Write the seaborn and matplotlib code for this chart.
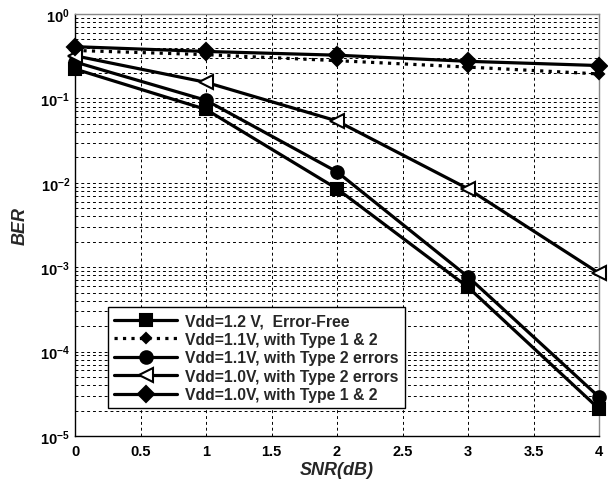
import matplotlib
matplotlib.use("Agg")
import matplotlib.pyplot as plt
import matplotlib.ticker as mticker
import numpy as np
import pandas as pd
import seaborn as sns

snr = [0, 1, 2, 3, 4]
labels = [
    "Vdd=1.2 V,  Error-Free",
    "Vdd=1.1V, with Type 1 & 2",
    "Vdd=1.1V, with Type 2 errors",
    "Vdd=1.0V, with Type 2 errors",
    "Vdd=1.0V, with Type 1 & 2",
]
ber_error_free = [0.223, 0.074, 0.0085, 0.00058, 2.1e-5]
ber_11_t12 = [0.37, 0.33, 0.28, 0.235, 0.195]
ber_11_t2 = [0.27, 0.095, 0.0135, 0.00077, 2.9e-5]
ber_10_t2 = [0.32, 0.155, 0.054, 0.0085, 0.00085]
ber_10_t12 = [0.41, 0.36, 0.325, 0.275, 0.245]
series = [ber_error_free, ber_11_t12, ber_11_t2, ber_10_t2, ber_10_t12]

sns.set_theme(style="white")
plt.rcParams["font.family"] = ["Liberation Sans", "DejaVu Sans"]
plt.rcParams["mathtext.fontset"] = "custom"
plt.rcParams["mathtext.bf"] = "Liberation Sans:bold"

fig = plt.figure(figsize=(6.08, 4.85), dpi=100)
ax = fig.add_axes([75/608, 1-437/485, (599-75)/608, (437-15)/485])

styles = [
    dict(marker="s", ls="-", ms=8, mfc="black"),
    dict(marker="D", ls=":", ms=5, mfc="black"),
    dict(marker="o", ls="-", ms=9, mfc="black"),
    dict(marker="<", ls="-", ms=10, mfc="white"),
    dict(marker="D", ls="-", ms=8, mfc="black"),
]

for lab, vals, st in zip(labels, series, styles):
    df = pd.DataFrame({"SNR": snr, "BER": vals})
    sns.lineplot(data=df, x="SNR", y="BER", ax=ax, color="black", lw=2.3,
                 linestyle=st["ls"], marker=st["marker"], markersize=st["ms"],
                 markerfacecolor=st["mfc"], markeredgecolor="black",
                 markeredgewidth=1.5, label=lab, clip_on=False, zorder=3)

ax.set_yscale("log")
ax.set_xlim(0, 4)
ax.set_ylim(1e-5, 1)
ax.xaxis.set_major_locator(mticker.MultipleLocator(0.5))
ax.xaxis.set_major_formatter(mticker.FuncFormatter(lambda v, p: "%g" % v))
ax.yaxis.set_major_locator(mticker.LogLocator(base=10, numticks=10))
ax.yaxis.set_minor_locator(mticker.LogLocator(base=10, subs=np.arange(2, 10), numticks=20))
ax.yaxis.set_minor_formatter(mticker.NullFormatter())
ax.yaxis.set_major_formatter(mticker.FuncFormatter(
    lambda v, p: r"$\mathbf{10^{%d}}$" % int(round(np.log10(v)))))

ax.grid(True, which="major", axis="both", color="black", ls=(0, (3, 3)), lw=0.7)
ax.grid(True, which="minor", axis="y", color="black", ls=(0, (3, 3)), lw=0.7)
ax.set_axisbelow(True)

for s in ax.spines.values():
    s.set_color("black")
    s.set_linewidth(1.0)
ax.spines["top"].set_color("#888888")
ax.spines["right"].set_color("#888888")

ax.tick_params(axis="both", which="both", direction="in", colors="black",
               labelsize=10.5, length=4)
ax.tick_params(axis="y", which="minor", length=2)
for t in ax.get_xticklabels():
    t.set_fontweight("bold")
ax.tick_params(axis="x", pad=6)

ax.set_xlabel("SNR(dB)", fontsize=13, fontweight="bold", fontstyle="italic", labelpad=2)
ax.set_ylabel("BER", fontsize=13, fontweight="bold", fontstyle="italic", labelpad=8)

leg = ax.legend(loc="upper left", bbox_to_anchor=((108-75)/524, (437-308)/422),
                borderaxespad=0.0,
                frameon=True, fancybox=False, edgecolor="black", framealpha=1,
                handlelength=4.0, borderpad=0.4, labelspacing=0.22,
                handletextpad=0.5, prop=dict(size=11.3, weight="bold"))
leg.get_frame().set_linewidth(1.0)
leg.set_zorder(5)

fig.savefig("out.png", dpi=100)
